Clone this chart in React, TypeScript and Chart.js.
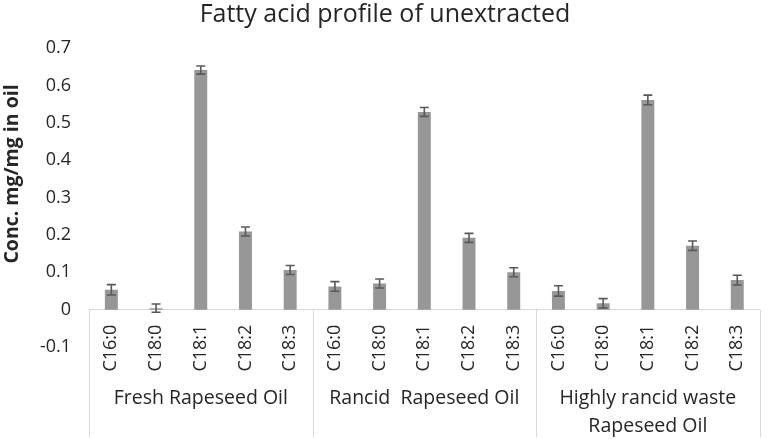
import React, { useEffect, useRef } from "react";
import { Chart, registerables } from "chart.js";

Chart.register(...registerables);

const FONT = "'Open Sans', sans-serif";
const TEXT = "#262626";

const acids = ["C16:0", "C18:0", "C18:1", "C18:2", "C18:3"];
const categories = [...acids, ...acids, ...acids];

const freshValues = [0.053, 0.004, 0.641, 0.209, 0.106];
const rancidValues = [0.062, 0.07, 0.529, 0.192, 0.1];
const wasteValues = [0.05, 0.017, 0.561, 0.171, 0.079];

const freshErrors = [0.014, 0.011, 0.011, 0.012, 0.012];
const rancidErrors = [0.013, 0.012, 0.012, 0.012, 0.012];
const wasteErrors = [0.014, 0.0125, 0.013, 0.0125, 0.013];

const groupLabels = [
  ["Fresh Rapeseed Oil"],
  ["Rancid  Rapeseed Oil"],
  ["Highly rancid waste", "Rapeseed Oil"],
];

const yTickValues = [-0.1, 0, 0.1, 0.2, 0.3, 0.4, 0.5, 0.6, 0.7];

const chartTitle = "Fatty acid profile of unextracted";
const yAxisTitle = "Conc. mg/mg in oil";

const values = [...freshValues, ...rancidValues, ...wasteValues];
const errors = [...freshErrors, ...rancidErrors, ...wasteErrors];

const errorBarPlugin = {
  id: "errorBars",
  afterDatasetsDraw(chart: any) {
    const ctx = chart.ctx;
    const meta = chart.getDatasetMeta(0);
    const y = chart.scales.y;
    ctx.save();
    ctx.strokeStyle = "#595959";
    ctx.lineWidth = 1.6;
    meta.data.forEach((bar: any, i: number) => {
      const v = values[i];
      const e = errors[i];
      const top = y.getPixelForValue(v + e);
      const bot = y.getPixelForValue(v - e);
      const x = bar.x;
      const cap = 4.5;
      ctx.beginPath();
      ctx.moveTo(x, top);
      ctx.lineTo(x, bot);
      ctx.moveTo(x - cap, top);
      ctx.lineTo(x + cap, top);
      ctx.moveTo(x - cap, bot);
      ctx.lineTo(x + cap, bot);
      ctx.stroke();
    });
    ctx.restore();
  },
};

const groupPlugin = {
  id: "groups",
  afterDraw(chart: any) {
    const ctx = chart.ctx;
    const x = chart.scales.x;
    const y = chart.scales.y;
    const y0 = y.getPixelForValue(0);
    const step = x.getPixelForValue(1) - x.getPixelForValue(0);
    ctx.save();
    ctx.strokeStyle = "#d9d9d9";
    ctx.lineWidth = 1;
    const n = acids.length;
    for (let g = 0; g <= groupLabels.length; g++) {
      const px = Math.round(x.getPixelForValue(g * n) - step / 2) + 0.5;
      ctx.beginPath();
      ctx.moveTo(px, y0);
      ctx.lineTo(px, 437);
      ctx.stroke();
    }
    ctx.fillStyle = TEXT;
    ctx.font = `19.5px ${FONT}`;
    ctx.textAlign = "center";
    ctx.textBaseline = "middle";
    groupLabels.forEach((lines, g) => {
      const cx = x.getPixelForValue(g * n + 2);
      lines.forEach((t, k) => {
        ctx.fillText(t, cx, 398 + k * 28);
      });
    });
    // y axis title
    ctx.translate(12, 174);
    ctx.rotate(-Math.PI / 2);
    ctx.font = `bold 19.5px ${FONT}`;
    ctx.fillText(yAxisTitle, 0, 0);
    ctx.restore();
  },
};

export default function App() {
  const ref = useRef<HTMLCanvasElement>(null);
  useEffect(() => {
    const chart = new Chart(ref.current as HTMLCanvasElement, {
      type: "bar",
      data: {
        labels: categories,
        datasets: [
          {
            data: values,
            backgroundColor: "#979797",
            barPercentage: 0.29,
            categoryPercentage: 1,
          },
        ],
      },
      options: {
        responsive: false,
        animation: false,
        layout: { padding: { left: 0, right: 4, top: 0, bottom: 92 } },
        plugins: {
          legend: { display: false },
          tooltip: { enabled: false },
          title: {
            display: true,
            text: chartTitle,
            color: TEXT,
            font: { family: FONT, size: 25, weight: "normal", lineHeight: 1.2 },
            padding: { top: 0, bottom: 18 },
          },
        },
        scales: {
          x: {
            type: "category",
            position: { y: 0 } as any,
            grid: { display: false, drawTicks: false },
            border: { display: true, color: "#d9d9d9", width: 1 },
            ticks: {
              minRotation: 90,
              maxRotation: 90,
              autoSkip: false,
              padding: 15,
              color: TEXT,
              font: { family: FONT, size: 18 },
            },
          },
          y: {
            min: -0.1,
            max: 0.7,
            grid: { display: false, drawTicks: false },
            border: { display: false },
            afterBuildTicks: (scale: any) => {
              scale.ticks = yTickValues.map((v) => ({ value: v }));
            },
            afterFit: (scale: any) => {
              scale.width = 89;
            },
            ticks: {
              padding: 18,
              color: TEXT,
              font: { family: FONT, size: 18 },
              callback: (v: any) => (Math.abs(v) < 1e-9 ? "0" : Number(v).toFixed(1)),
            },
          },
        },
      },
      plugins: [errorBarPlugin, groupPlugin],
    });
    return () => chart.destroy();
  }, []);
  return (
    <div style={{ position: "fixed", left: 0, top: 0, width: 774, height: 439, background: "#fff" }}>
      <canvas ref={ref} width={774} height={439} style={{ width: 774, height: 439, display: "block" }} />
    </div>
  );
}
